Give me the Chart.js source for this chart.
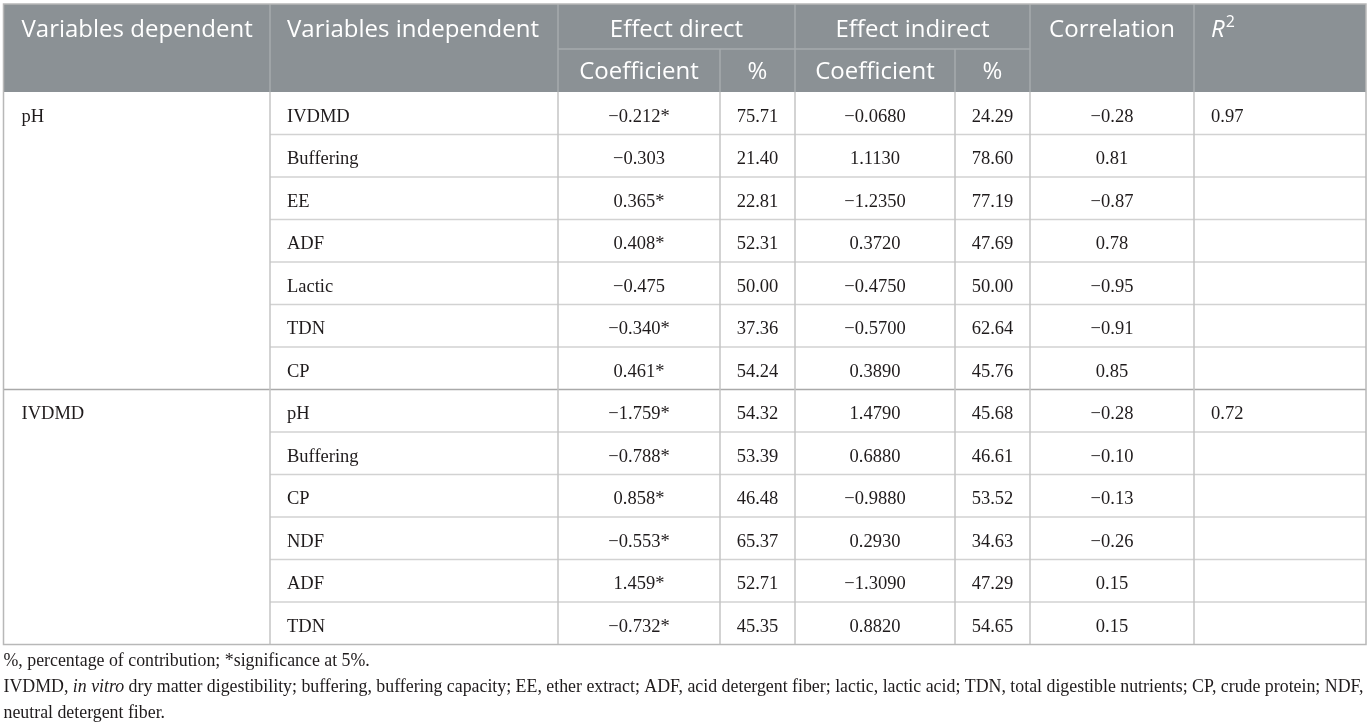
<!DOCTYPE html>
<html><head><meta charset="utf-8">
<script src="https://cdn.jsdelivr.net/npm/chart.js@4.4.1/dist/chart.umd.min.js"></script>
<style>html,body{margin:0;padding:0;background:#fff;}#wrap{width:1372px;height:725px;position:relative;}</style>
</head><body><div id="wrap"><canvas id="c"></canvas></div>
<script>
// ---------- data ----------
const dependentVars = ['pH', 'IVDMD'];
const groupSizes = [7, 6];
const independentVars = ['IVDMD','Buffering','EE','ADF','Lactic','TDN','CP','pH','Buffering','CP','NDF','ADF','TDN'];
const directCoef = [-0.212,-0.303,0.365,0.408,-0.475,-0.340,0.461,-1.759,-0.788,0.858,-0.553,1.459,-0.732];
const directSig  = [1,0,1,1,0,1,1,1,1,1,1,1,1];
const directPct  = [75.71,21.40,22.81,52.31,50.00,37.36,54.24,54.32,53.39,46.48,65.37,52.71,45.35];
const indirectCoef = [-0.0680,1.1130,-1.2350,0.3720,-0.4750,-0.5700,0.3890,1.4790,0.6880,-0.9880,0.2930,-1.3090,0.8820];
const indirectPct  = [24.29,78.60,77.19,47.69,50.00,62.64,45.76,45.68,46.61,53.52,34.63,47.29,54.65];
const correlation  = [-0.28,0.81,-0.87,0.78,-0.95,-0.91,0.85,-0.28,-0.10,-0.13,-0.26,0.15,0.15];
const rSquared     = [0.97,null,null,null,null,null,null,0.72,null,null,null,null,null];
const headerTop = ['Variables dependent','Variables independent','Effect direct','Effect indirect','Correlation'];
const headerSub = ['Coefficient','%','Coefficient','%'];
const footnote1 = '%, percentage of contribution; *significance at 5%.';
const footnote2 = [['IVDMD, ',false],['in vitro',true],[' dry matter digestibility; buffering, buffering capacity; EE, ether extract; ADF, acid detergent fiber; lactic, lactic acid; TDN, total digestible nutrients; CP, crude protein; NDF,',false]];
const footnote3 = 'neutral detergent fiber.';

// ---------- layout ----------
const colEdges = [0, 266.5, 554.5, 716.5, 791.5, 951.5, 1026.5, 1190.5, 1362.5];
const rowKeys = independentVars.map((v,i)=> i + ':' + v);
const fmt = (v, d) => (v < 0 ? '\u2212' : '') + Math.abs(v).toFixed(d);
const colCenter = k => (colEdges[k] + colEdges[k+1]) / 2;

const SERIF = '"Liberation Serif", "Times New Roman", serif';
const SANS = '"Open Sans", "Noto Sans", sans-serif';
const BODY_FONT = '18.5px ' + SERIF;
const TEXT = '#1f1b1c';
const HDR_BG = '#8b9195';
const HDR_LINE = '#a6abae';
const GRID = '#d2d2d2';
const VGRID = '#c4c4c4';
const GROUP_LINE = '#a9a9a9';
const BORDER = '#b8b8b8';

const cellColumns = [
  {col:2, text: directCoef.map((v,i)=> fmt(v,3) + (directSig[i] ? '*' : ''))},
  {col:3, text: directPct.map(v=> v.toFixed(2))},
  {col:4, text: indirectCoef.map(v=> fmt(v,4))},
  {col:5, text: indirectPct.map(v=> v.toFixed(2))},
  {col:6, text: correlation.map(v=> fmt(v,2))}
];

const datasets = cellColumns.map(c => ({
  label: 'col' + c.col,
  data: rowKeys.map(k => ({x: colCenter(c.col), y: k})),
  pointRadius: 0, showLine: false
}));

const tablePlugin = {
  id: 'tableDraw',
  afterDraw(chart) {
    const ctx = chart.ctx;
    const xs = chart.scales.x, ys = chart.scales.y;
    const X = v => xs.getPixelForValue(v);
    const rc = i => ys.getPixelForValue(i);
    const half = (rc(1) - rc(0)) / 2;
    const top = rc(0) - half, bottom = rc(rowKeys.length - 1) + half;
    const hTop = top - 88, hMid = top - 43;
    const L = X(colEdges[0]), R = X(colEdges[colEdges.length-1]);
    const TY = 3.5; // body text vertical offset

    ctx.save();
    ctx.fillStyle = HDR_BG;
    ctx.fillRect(L, hTop, R - L, top - hTop);
    ctx.strokeStyle = HDR_LINE; ctx.lineWidth = 1.5;
    const line = (x1,y1,x2,y2) => { ctx.beginPath(); ctx.moveTo(x1,y1); ctx.lineTo(x2,y2); ctx.stroke(); };
    [1,2,4,6,7].forEach(k => line(X(colEdges[k]), hTop, X(colEdges[k]), top));
    [3,5].forEach(k => line(X(colEdges[k]), hMid, X(colEdges[k]), top));
    line(X(colEdges[2]), hMid, X(colEdges[6]), hMid);

    // header text
    ctx.fillStyle = '#ffffff';
    ctx.font = '24px ' + SANS;
    ctx.textBaseline = 'middle';
    const hy1 = (hTop + hMid) / 2 + 4, hy2 = (hMid + top) / 2 + 2;
    ctx.textAlign = 'left';
    ctx.fillText(headerTop[0], X(colEdges[0]) + 18, hy1);
    ctx.fillText(headerTop[1], X(colEdges[1]) + 17, hy1);
    ctx.textAlign = 'center';
    ctx.fillText(headerTop[2], (X(colEdges[2]) + X(colEdges[4])) / 2, hy1);
    ctx.fillText(headerTop[3], (X(colEdges[4]) + X(colEdges[6])) / 2, hy1);
    ctx.fillText(headerTop[4], X(colCenter(6)), hy1);
    headerSub.forEach((t, j) => ctx.fillText(t, X(colCenter(2 + j)), hy2));
    ctx.textAlign = 'left';
    ctx.font = 'italic 24px ' + SANS;
    const rx = X(colEdges[7]) + 17;
    ctx.fillText('R', rx, hy1);
    const rw = ctx.measureText('R').width;
    ctx.font = '16px ' + SANS;
    ctx.fillText('2', rx + rw + 1, hy1 - 8);

    // body grid
    ctx.lineWidth = 1.5;
    let idx = 0;
    groupSizes.forEach((n, g) => {
      for (let r = 0; r < n; r++) {
        const i = idx + r;
        const yb = rc(i) + half;
        if (i === rowKeys.length - 1) continue;
        if (r === n - 1) { ctx.strokeStyle = GROUP_LINE; line(L, yb, R, yb); }
        else { ctx.strokeStyle = GRID; line(X(colEdges[1]), yb, R, yb); }
      }
      idx += n;
    });
    ctx.strokeStyle = VGRID;
    for (let k = 1; k < colEdges.length - 1; k++) line(X(colEdges[k]), top, X(colEdges[k]), bottom);
    ctx.strokeStyle = BORDER;
    ctx.strokeRect(L, hTop, R - L, bottom - hTop);

    // body text
    ctx.fillStyle = TEXT;
    ctx.font = BODY_FONT;
    ctx.textBaseline = 'middle';
    ctx.textAlign = 'left';
    idx = 0;
    groupSizes.forEach((n, g) => {
      ctx.fillText(dependentVars[g], X(colEdges[0]) + 18, rc(idx) + TY);
      idx += n;
    });
    independentVars.forEach((t, i) => ctx.fillText(t, X(colEdges[1]) + 17, rc(i) + TY));
    rSquared.forEach((v, i) => { if (v !== null) ctx.fillText(v.toFixed(2), X(colEdges[7]) + 17, rc(i) + TY); });
    ctx.textAlign = 'center';
    chart.data.datasets.forEach((ds, d) => {
      const meta = chart.getDatasetMeta(d);
      meta.data.forEach((pt, i) => ctx.fillText(cellColumns[d].text[i], pt.x, pt.y + TY));
    });

    // footnotes
    ctx.textAlign = 'left';
    let w = 0;
    footnote2.forEach(([t, it]) => { ctx.font = (it ? 'italic ' : '') + '16px ' + SERIF; w += ctx.measureText(t).width; });
    const fs = Math.max(14, Math.min(18, 16 * (R - L - 2) / w));
    ctx.font = fs + 'px ' + SERIF;
    ctx.fillText(footnote1, L, bottom + 17);
    let fx = L;
    footnote2.forEach(([t, it]) => {
      ctx.font = (it ? 'italic ' : '') + fs + 'px ' + SERIF;
      ctx.fillText(t, fx, bottom + 43);
      fx += ctx.measureText(t).width;
    });
    ctx.font = fs + 'px ' + SERIF;
    ctx.fillText(footnote3, L, bottom + 69);
    ctx.restore();
  }
};

new Chart(document.getElementById('c'), {
  type: 'scatter',
  data: { datasets },
  options: {
    responsive: true, maintainAspectRatio: false, animation: false, events: [],
    layout: { padding: { top: 92, bottom: 80.5, left: 3.5, right: 6 } },
    plugins: { legend: { display: false }, tooltip: { enabled: false } },
    scales: {
      x: { type: 'linear', min: colEdges[0], max: colEdges[colEdges.length-1], display: false },
      y: { type: 'category', labels: rowKeys, offset: true, display: false }
    }
  },
  plugins: [tablePlugin]
});
</script></body></html>
